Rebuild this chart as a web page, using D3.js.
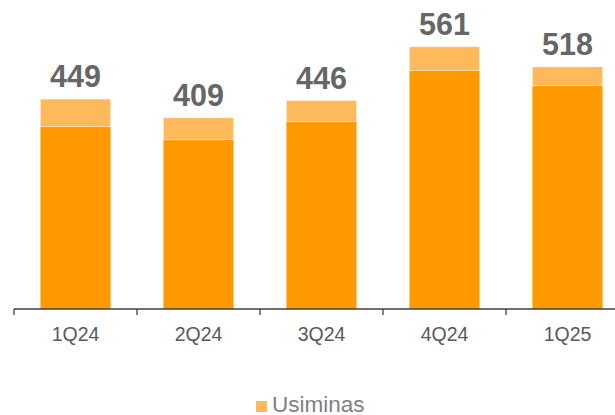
<!DOCTYPE html>
<meta charset="utf-8">
<style>
  body { margin: 0; background: #fff; }
  svg { display: block; font-family: "Liberation Sans", Arial, sans-serif; }
  .axis line { stroke: #404040; stroke-width: 1.3px; }
  .axis text { fill: #595959; font-size: 19.5px; }
  .total { fill: #666; font-size: 30.5px; font-weight: bold; text-anchor: middle; }
  .legend text { fill: #7f7f7f; font-size: 22.5px; }
</style>
<body>
<script src="https://d3js.org/d3.v7.min.js"></script>
<script>
  // quarters and values
  var quarters = ["1Q24", "2Q24", "3Q24", "4Q24", "1Q25"];
  var baseValues = [390, 362, 401, 510, 478];
  var totals = [449, 409, 446, 561, 518];
  var topValues = totals.map(function(t, i) { return t - baseValues[i]; });

  var width = 615, height = 415;
  var colorBase = "#ff9900", colorTop = "#feb95b";

  var svg = d3.select("body").append("svg")
      .attr("width", width)
      .attr("height", height);

  var x = d3.scaleBand()
      .domain(quarters)
      .range([14, 629])
      .paddingInner(0.43)
      .paddingOuter(0.215);

  var y = d3.scaleLinear()
      .domain([0, 661])
      .range([309, 0]);

  var rows = quarters.map(function(q, i) {
    return {q: q, base: baseValues[i], top: topValues[i], total: totals[i]};
  });

  // bottom segments
  svg.selectAll(".bar-base")
      .data(rows)
    .enter().append("rect")
      .attr("class", "bar-base")
      .attr("x", function(d) { return x(d.q); })
      .attr("width", x.bandwidth())
      .attr("y", function(d) { return y(d.base); })
      .attr("height", function(d) { return y(0) - y(d.base); })
      .attr("fill", colorBase);

  // top segments
  svg.selectAll(".bar-top")
      .data(rows)
    .enter().append("rect")
      .attr("class", "bar-top")
      .attr("x", function(d) { return x(d.q); })
      .attr("width", x.bandwidth())
      .attr("y", function(d) { return y(d.total); })
      .attr("height", function(d) { return y(d.base) - y(d.total); })
      .attr("fill", colorTop)
      .attr("stroke", "#fff")
      .attr("stroke-opacity", 0.35)
      .attr("stroke-width", 1);

  // totals above bars
  svg.selectAll(".total")
      .data(rows)
    .enter().append("text")
      .attr("class", "total")
      .attr("x", function(d) { return x(d.q) + x.bandwidth() / 2; })
      .attr("y", function(d) { return y(d.total) - 12; })
      .text(function(d) { return d.total; });

  // x axis: baseline with ticks on the category boundaries
  var gap = (x.step() - x.bandwidth()) / 2;
  var axis = svg.append("g").attr("class", "axis");
  axis.append("line")
      .attr("x1", 14).attr("x2", width)
      .attr("y1", y(0)).attr("y2", y(0));
  axis.selectAll(".tick")
      .data(quarters)
    .enter().append("line")
      .attr("class", "tick")
      .attr("x1", function(d) { return x(d) - gap; })
      .attr("x2", function(d) { return x(d) - gap; })
      .attr("y1", y(0)).attr("y2", y(0) + 6);
  axis.selectAll(".label")
      .data(quarters)
    .enter().append("text")
      .attr("class", "label")
      .attr("x", function(d) { return x(d) + x.bandwidth() / 2; })
      .attr("y", 341)
      .attr("text-anchor", "middle")
      .text(function(d) { return d; });

  // legend
  var legend = svg.append("g").attr("class", "legend");
  legend.append("rect")
      .attr("x", 256).attr("y", 401)
      .attr("width", 11).attr("height", 11)
      .attr("fill", colorTop);
  legend.append("text")
      .attr("x", 272).attr("y", 412)
      .text("Usiminas");
</script>
</body>
